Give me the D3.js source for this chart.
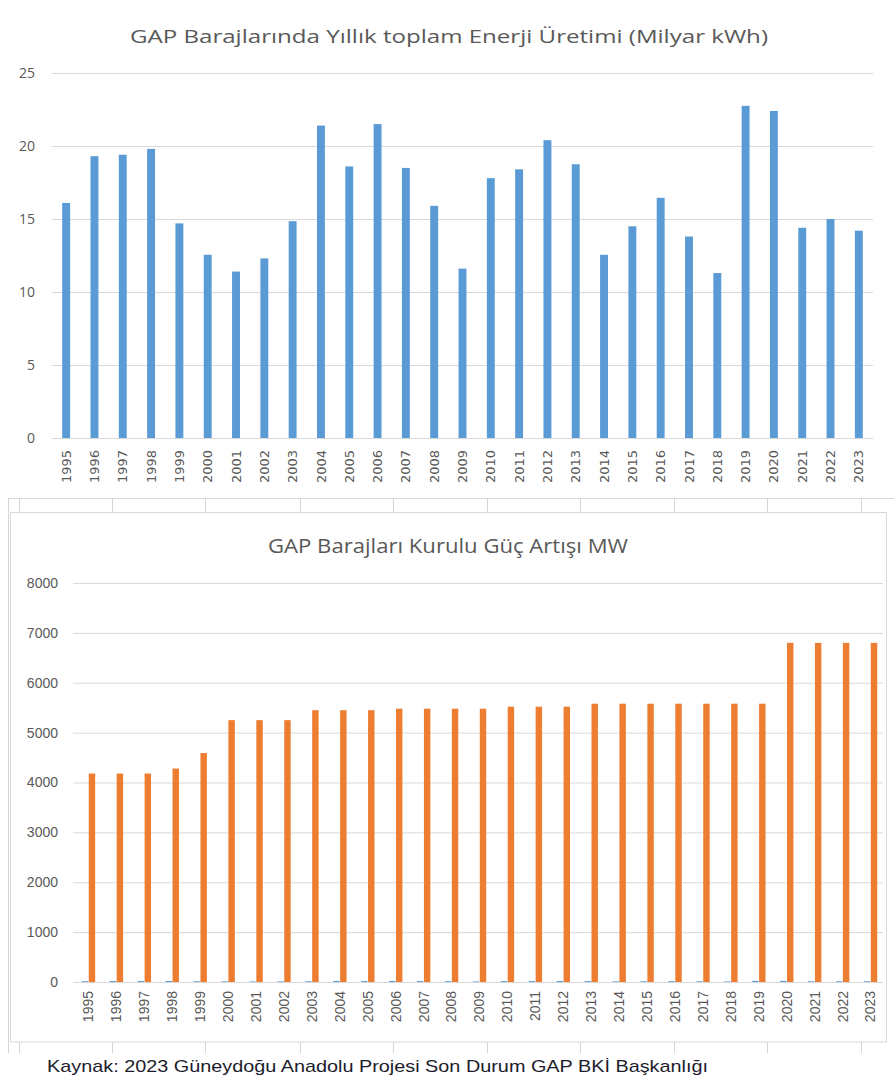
<!DOCTYPE html>
<html>
<head>
<meta charset="utf-8">
<script src="https://cdn.jsdelivr.net/npm/d3@7"></script>
<style>
    body { margin: 0; background: #fff; }
    svg { display: block; }
    .axis .domain { display: none; }
    .grid line { stroke: #d9d9d9; stroke-width: 1; }
</style>
</head>
<body>
<div id="chart"></div>
<script>
// years shown on both charts
const years = ["1995", "1996", "1997", "1998", "1999", "2000", "2001", "2002", "2003", "2004",
    "2005", "2006", "2007", "2008", "2009", "2010", "2011", "2012", "2013", "2014",
    "2015", "2016", "2017", "2018", "2019", "2020", "2021", "2022", "2023"];

// yearly energy production (billion kWh)
const energy = [16.1, 19.3, 19.4, 19.8, 14.7, 12.55, 11.4, 12.3, 14.85, 21.4,
    18.6, 21.5, 18.5, 15.9, 11.6, 17.8, 18.4, 20.4, 18.75, 12.55,
    14.5, 16.45, 13.8, 11.3, 22.75, 22.4, 14.4, 15.0, 14.2];

// installed capacity (MW)
const capacity = [4180, 4180, 4180, 4280, 4590, 5250, 5250, 5250, 5450, 5450,
    5450, 5480, 5480, 5480, 5480, 5520, 5520, 5520, 5580, 5580,
    5580, 5580, 5580, 5580, 5580, 6800, 6800, 6800, 6800];

const energyTicks = [0, 5, 10, 15, 20, 25];
const capacityTicks = [0, 1000, 2000, 3000, 4000, 5000, 6000, 7000, 8000];

const title1 = "GAP Barajlarında Yıllık toplam Enerji Üretimi (Milyar kWh)";
const title2 = "GAP Barajları Kurulu Güç Artışı MW";
const source = "Kaynak: 2023 Güneydoğu Anadolu Projesi Son Durum GAP BKİ Başkanlığı";

const blue = "#5b9bd5";
const orange = "#ed7d31";
const textGray = "#595959";

const W = 894, H = 1082;

const svg = d3.select("#chart").append("svg")
    .attr("width", W)
    .attr("height", H);

// spreadsheet cell lines behind the charts
const cellCols = [19, 112, 205, 300, 393, 487, 580, 674, 767, 861];
const sheet = svg.append("g").attr("stroke", "#d6d6d6").attr("stroke-width", 1);
sheet.append("line").attr("x1", 8).attr("x2", W).attr("y1", 498.5).attr("y2", 498.5);
sheet.append("line").attr("x1", 8.5).attr("x2", 8.5).attr("y1", 498).attr("y2", 1053);
sheet.selectAll(".ctop").data(cellCols).join("line")
    .attr("x1", d => d + 0.5).attr("x2", d => d + 0.5)
    .attr("y1", 499).attr("y2", 512);
sheet.selectAll(".cbot").data(cellCols).join("line")
    .attr("x1", d => d + 0.5).attr("x2", d => d + 0.5)
    .attr("y1", 1042).attr("y2", 1053);

// bottom chart frame
svg.append("rect")
    .attr("x", 10.5).attr("y", 512.5)
    .attr("width", 876).attr("height", 529.5)
    .attr("fill", "#fff")
    .attr("stroke", "#d9d9d9");


// ---------- chart 1: yearly energy ----------
const m1 = {left: 52, right: 873, top: 73, bottom: 438};

const x1 = d3.scaleBand().domain(years).range([m1.left, m1.right]).paddingInner(0.72).paddingOuter(0.36);
const y1 = d3.scaleLinear().domain([0, 25]).range([m1.bottom, m1.top]);

const g1 = svg.append("g");

g1.append("text")
    .attr("x", 449).attr("y", 43)
    .attr("text-anchor", "middle")
    .attr("font-family", "Open Sans")
    .attr("font-size", 19)
    .attr("fill", textGray)
    .attr("textLength", 638)
    .attr("lengthAdjust", "spacingAndGlyphs")
    .text(title1);

g1.append("g")
    .attr("class", "axis grid")
    .attr("transform", `translate(${m1.left},0)`)
    .call(d3.axisLeft(y1).tickValues(energyTicks).tickSize(-(m1.right - m1.left)).tickPadding(17))
    .call(g => g.selectAll("text")
        .attr("font-family", "Open Sans")
        .attr("font-size", 14)
        .attr("fill", textGray));

g1.selectAll(".bar")
    .data(years)
    .join("rect")
    .attr("class", "bar")
    .attr("x", d => x1(d))
    .attr("width", x1.bandwidth())
    .attr("y", (d, i) => y1(energy[i]))
    .attr("height", (d, i) => y1(0) - y1(energy[i]))
    .attr("fill", blue);

g1.append("g")
    .attr("class", "axis")
    .attr("transform", `translate(0,${m1.bottom})`)
    .call(d3.axisBottom(x1).tickSize(0))
    .call(g => g.selectAll("text")
        .attr("font-family", "DejaVu Sans")
        .attr("font-size", 13)
        .attr("fill", textGray)
        .attr("text-anchor", "end")
        .attr("transform", "translate(0,12) rotate(-90)")
        .attr("x", 0).attr("y", 0).attr("dy", "0.35em"));


// ---------- chart 2: installed capacity ----------
const m2 = {left: 73, right: 883, top: 583, bottom: 982};

const x2 = d3.scaleBand().domain(years).range([m2.left + 1.5, m2.right + 1.5]).paddingInner(0.52).paddingOuter(0.26);
const xs = d3.scaleBand().domain(["energy", "capacity"]).range([0, x2.bandwidth()]).paddingInner(0.08);
const y2 = d3.scaleLinear().domain([0, 8000]).range([m2.bottom, m2.top]);

const g2 = svg.append("g");

g2.append("text")
    .attr("x", 448).attr("y", 553)
    .attr("text-anchor", "middle")
    .attr("font-family", "Open Sans")
    .attr("font-size", 20)
    .attr("fill", textGray)
    .attr("textLength", 360)
    .attr("lengthAdjust", "spacingAndGlyphs")
    .text(title2);

g2.append("g")
    .attr("class", "axis grid")
    .attr("transform", `translate(${m2.left},0)`)
    .call(d3.axisLeft(y2).tickValues(capacityTicks).tickFormat(d3.format("d"))
        .tickSize(-(m2.right - m2.left)).tickPadding(15))
    .call(g => g.selectAll("text")
        .attr("font-family", "Liberation Sans")
        .attr("font-size", 14)
        .attr("fill", textGray));

const rows = years.map((yr, i) => ({year: yr, energy: energy[i], capacity: capacity[i]}));

const groups = g2.selectAll(".yr")
    .data(rows)
    .join("g")
    .attr("class", "yr")
    .attr("transform", d => `translate(${x2(d.year)},0)`);

// energy on the MW axis: only a sliver above zero
groups.append("rect")
    .attr("x", xs("energy"))
    .attr("width", xs.bandwidth())
    .attr("y", d => y2(d.energy))
    .attr("height", d => y2(0) - y2(d.energy))
    .attr("fill", blue);

groups.append("rect")
    .attr("x", xs("capacity"))
    .attr("width", xs.bandwidth())
    .attr("y", d => y2(d.capacity))
    .attr("height", d => y2(0) - y2(d.capacity))
    .attr("fill", orange);

g2.append("g")
    .attr("class", "axis")
    .attr("transform", `translate(0,${m2.bottom})`)
    .call(d3.axisBottom(x2).tickSize(0))
    .call(g => g.selectAll("text")
        .attr("font-family", "Liberation Sans")
        .attr("font-size", 14)
        .attr("fill", textGray)
        .attr("text-anchor", "end")
        .attr("transform", "translate(0,9) rotate(-90)")
        .attr("x", 0).attr("y", 0).attr("dy", "0.35em"));


// source line
svg.append("text")
    .attr("x", 47).attr("y", 1072)
    .attr("font-family", "Liberation Sans")
    .attr("font-size", 17)
    .attr("fill", "#1c1c2c")
    .attr("textLength", 661)
    .attr("lengthAdjust", "spacingAndGlyphs")
    .text(source);
</script>
</body>
</html>
